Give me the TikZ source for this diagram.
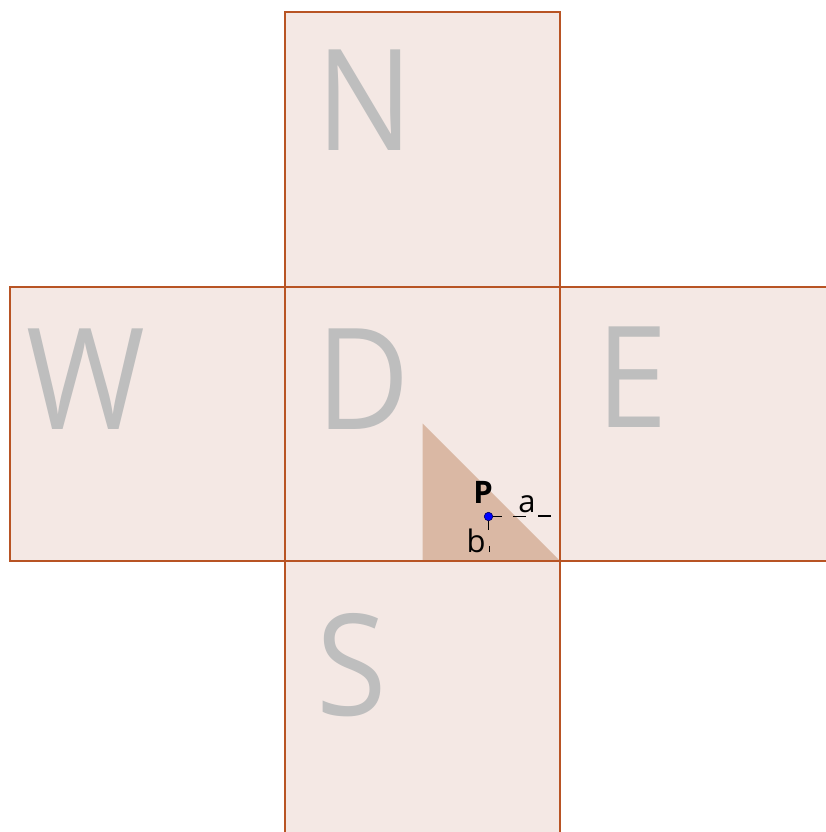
\documentclass[tikz,border=0pt]{standalone}
\usepackage{graphicx}
\usepackage{fontspec}
\setmainfont{Open Sans}
\definecolor{tile}{RGB}{244,232,228}
\definecolor{edge}{RGB}{184,84,36}
\definecolor{tri}{RGB}{218,184,164}
\definecolor{letter}{RGB}{190,190,190}
\newcommand{\narrowtext}[1]{\scalebox{0.91}[1]{#1}}
\begin{document}
\begin{tikzpicture}[x=1pt,y=-1pt,
  tilefill/.style={fill=tile},
  tileedge/.style={draw=edge,line width=1.6pt},
  big/.style={text=letter,font=\fontsize{141}{141}\selectfont,inner sep=0pt},
  lab/.style={font=\fontsize{31}{31}\selectfont,inner sep=0pt},
  tickline/.style={line width=1.3pt}]
\useasboundingbox (0,0) rectangle (826,832);
\clip (0,0) rectangle (826,832);
\fill[white] (0,0) rectangle (826,832);
% tiles
\fill[tilefill] (285,12) rectangle (560,287);
\fill[tilefill] (10,287) rectangle (285,561);
\fill[tilefill] (285,287) rectangle (560,561);
\fill[tilefill] (560,287) rectangle (840,561);
\fill[tilefill] (285,561) rectangle (560,845);
% triangle
\fill[tri] (422.5,423.5) -- (422.5,561) -- (560,561) -- cycle;
% borders
\draw[tileedge] (285,12) rectangle (560,287);
\draw[tileedge] (10,287) rectangle (285,561);
\draw[tileedge] (285,287) rectangle (560,561);
\draw[tileedge] (560,287) rectangle (840,561);
\draw[tileedge] (285,561) rectangle (560,845);
% letters
\node[big] (N) at (365,100) {\narrowtext{N}};
\node[big] (W) at (85.5,379.5) {\narrowtext{W}};
\node[big] (D) at (363,379.5) {\narrowtext{D}};
\node[big] (E) at (632,377.5) {\narrowtext{E}};
\node[big] (S) at (352,665.5) {\narrowtext{S}};
% point P
\node[circle,fill=blue,draw=blue!40!black,line width=0.6pt,inner sep=0pt,minimum size=8.5pt] (P) at (488.5,516.5) {};
\node[lab,font=\fontsize{31}{31}\selectfont\bfseries,anchor=base] (Plab) at (483,503) {P};
\draw[tickline] (P.east) -- ++(9,0);
\draw[tickline] (P.south) -- ++(0,9);
\node[lab,anchor=base] (a) at (527,512) {a};
\draw[tickline] ([xshift=-14pt,yshift=-4.5pt]a.base) -- ++(13,0);
\draw[tickline] ([xshift=11pt,yshift=-4pt]a.base) -- ++(13,0);
\node[lab,anchor=base] (b) at (476,552) {b};
\draw[line width=0.9pt] ([xshift=13pt]b.base) -- ++(0,-6);
\end{tikzpicture}
\end{document}
